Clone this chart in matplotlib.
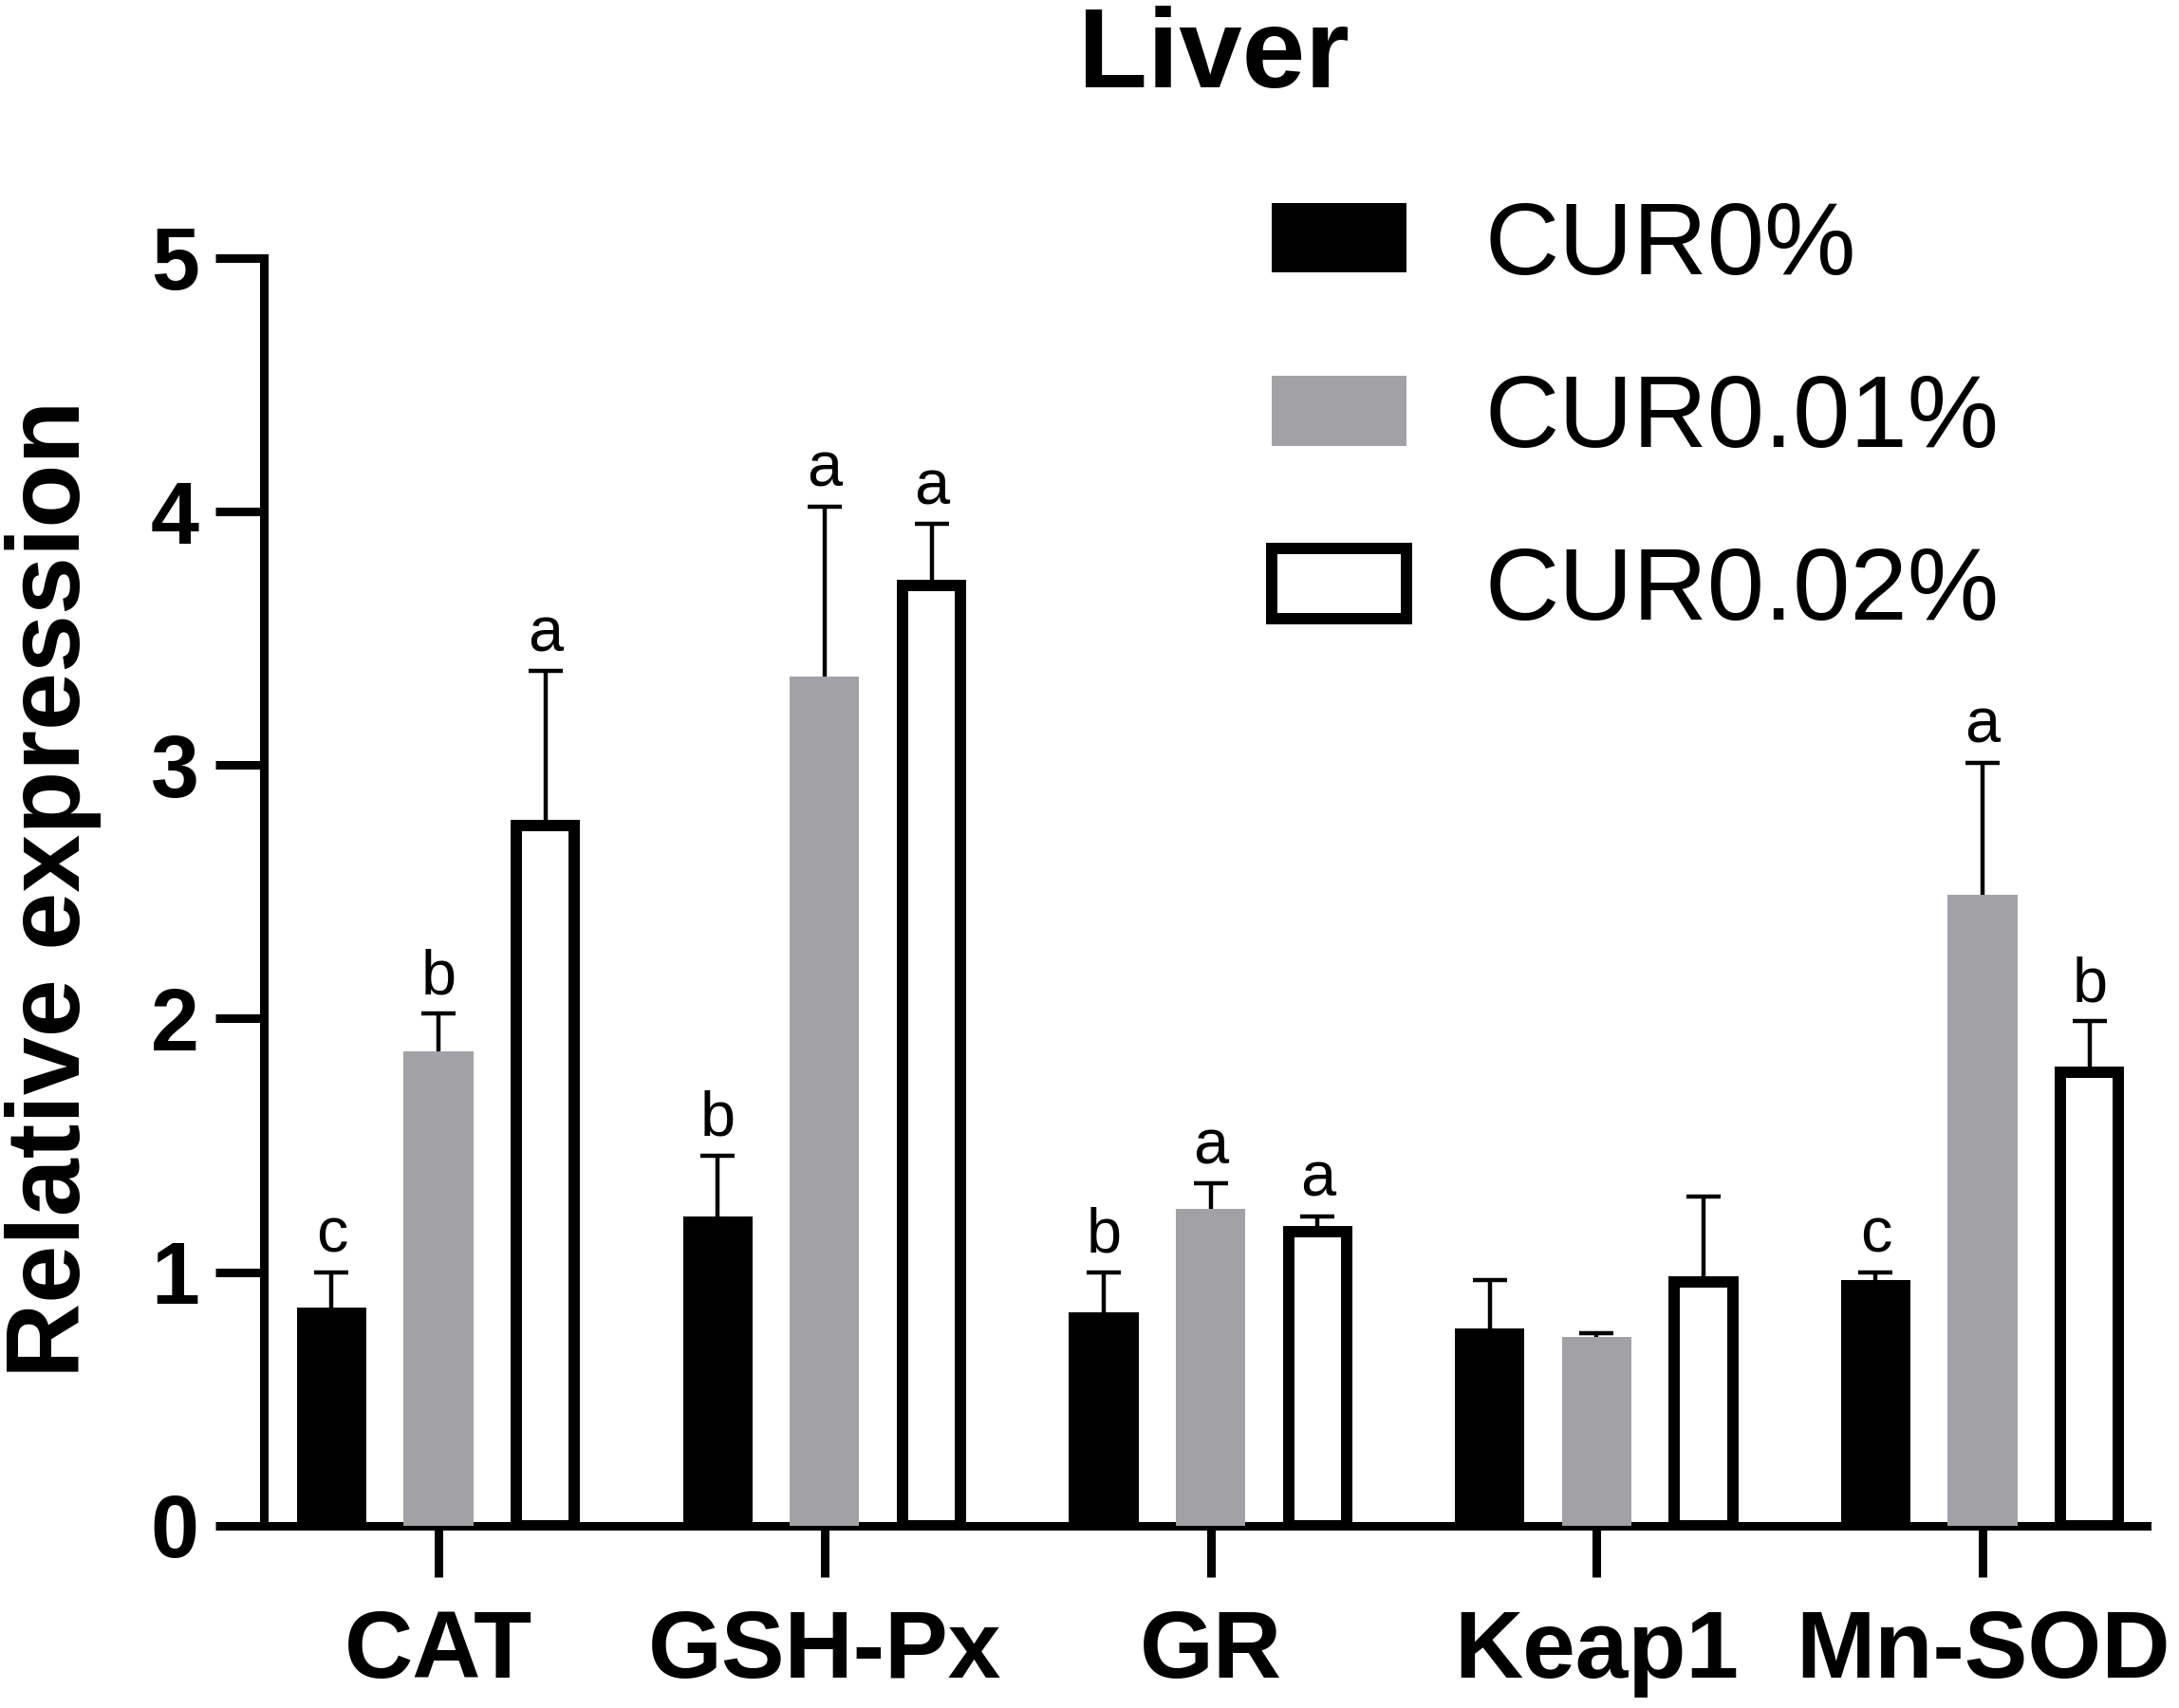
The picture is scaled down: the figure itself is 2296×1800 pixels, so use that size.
import matplotlib
matplotlib.use("Agg")
import matplotlib.pyplot as plt
import numpy as np

plt.rcParams['font.family'] = ['Liberation Sans', 'DejaVu Sans']

genes = ["CAT", "GSH-Px", "GR", "Keap1", "Mn-SOD"]
series_names = ["CUR0%", "CUR0.01%", "CUR0.02%"]
cur0 = [0.86, 1.22, 0.84, 0.78, 0.97]
cur001 = [1.87, 3.35, 1.25, 0.745, 2.49]
cur002 = [2.76, 3.71, 1.16, 0.96, 1.79]
err0 = [0.14, 0.24, 0.16, 0.19, 0.03]
err001 = [0.15, 0.67, 0.10, 0.015, 0.52]
err002 = [0.61, 0.24, 0.06, 0.34, 0.20]
letters0 = ["c", "b", "b", "", "c"]
letters001 = ["b", "a", "a", "", "a"]
letters002 = ["a", "a", "a", "", "b"]

values = [cur0, cur001, cur002]
errors = [err0, err001, err002]
letters = [letters0, letters001, letters002]
gray = "#a2a2a6"

fig = plt.figure(figsize=(22.96, 18.0), dpi=100)
ax = fig.add_axes([0.121, 0.1067, 0.864, 0.7423])

x = np.arange(len(genes))
offsets = [-0.277, 0.0, 0.277]
bw = 0.18
edge_lw = 8.6
white_w = bw - 0.0295

for i in range(3):
    xs = x + offsets[i]
    if i == 0:
        ax.bar(xs, values[i], bw, color="black", label=series_names[i], zorder=3)
    elif i == 1:
        ax.bar(xs, values[i], bw, color=gray, label=series_names[i], zorder=3)
    else:
        ax.bar(xs, values[i], white_w, facecolor="white", edgecolor="black",
               linewidth=edge_lw, label=series_names[i], zorder=3)
    eb = ax.errorbar(xs, values[i], yerr=[np.zeros(len(genes)), errors[i]], fmt="none",
                     ecolor="black", elinewidth=3.2, capsize=13, capthick=3.2, zorder=2)
    caps = eb[1]
    if len(caps) >= 2:
        caps[0].set_visible(False)
    for xx, v, e, t in zip(xs, values[i], errors[i], letters[i]):
        if t:
            ax.annotate(t, (xx, v + e), xytext=(0, 5), textcoords="offset points",
                        ha="center", va="bottom", fontsize=48)

ax.set_xlim(-0.453, 4.424)
ax.set_ylim(0, 5)
ax.set_yticks([0, 1, 2, 3, 4, 5])
ax.set_xticks(x)
ax.set_xticklabels(genes, fontsize=72, fontweight="bold")
for lab in ax.get_yticklabels():
    lab.set_fontsize(66)
    lab.set_fontweight("bold")
ax.tick_params(axis="y", length=37, width=6.5, pad=12)
ax.tick_params(axis="x", length=39, width=6.5, pad=24)
for s in ["top", "right"]:
    ax.spines[s].set_visible(False)
for s in ["left", "bottom"]:
    ax.spines[s].set_linewidth(6.5)

ax.set_ylabel("Relative expression", fontsize=79, fontweight="bold", va="center")
ax.yaxis.set_label_coords(-0.112, 0.502)

fig.text(0.557, 0.966, "Liver", fontsize=86, fontweight="bold", ha="center", va="center")

ax.legend(loc="upper left", bbox_to_anchor=(0.5836, 0.883), bbox_transform=fig.transFigure,
          frameon=False, fontsize=78, handlelength=1.31, handleheight=0.67,
          handletextpad=0.76, labelspacing=0.76, borderpad=0, borderaxespad=0)

fig.savefig("out.png", dpi=100)
